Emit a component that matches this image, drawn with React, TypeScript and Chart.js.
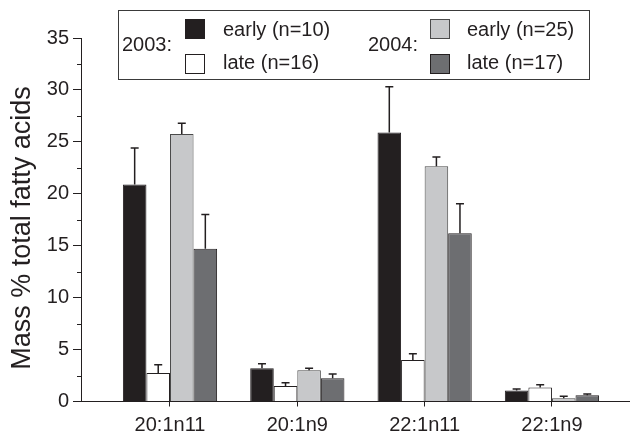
import React, { useEffect, useRef } from 'react';
import { Chart, registerables } from 'chart.js';

Chart.register(...registerables);

const categories = ['20:1n11', '20:1n9', '22:1n11', '22:1n9'];
const early2003 = [20.9, 3.2, 25.9, 1.05];
const early2003Err = [3.5, 0.43, 4.4, 0.15];
const late2003 = [2.75, 1.5, 4.0, 1.35];
const late2003Err = [0.8, 0.3, 0.6, 0.27];
const early2004 = [25.75, 3.0, 22.65, 0.32];
const early2004Err = [1.05, 0.2, 0.9, 0.18];
const late2004 = [14.7, 2.25, 16.2, 0.6];
const late2004Err = [3.3, 0.4, 2.85, 0.12];
const yMajorTicks = [0, 5, 10, 15, 20, 25, 30, 35];
const yMinorTicks = [2.5, 7.5, 12.5, 17.5, 22.5, 27.5, 32.5];
const years = ['2003:', '2004:'];
const seriesLabels = ['early (n=10)', 'late (n=16)', 'early (n=25)', 'late (n=17)'];
const yTitle = 'Mass % total fatty acids';

const INK = '#231f20';
const FONT = "'Liberation Sans', Arial, sans-serif";

const errorsBySeries = [early2003Err, late2003Err, early2004Err, late2004Err];

const errorBarPlugin = {
  id: 'errorBars',
  afterDatasetsDraw(chart: any) {
    const ctx = chart.ctx;
    const yScale = chart.scales.y;
    ctx.save();
    ctx.strokeStyle = INK;
    ctx.lineWidth = 1.5;
    chart.data.datasets.forEach((ds: any, i: number) => {
      const meta = chart.getDatasetMeta(i);
      meta.data.forEach((el: any, j: number) => {
        const v = ds.data[j].y;
        const e = errorsBySeries[i][j];
        const yTop = yScale.getPixelForValue(v);
        const yErr = yScale.getPixelForValue(v + e);
        ctx.beginPath();
        ctx.moveTo(el.x, yTop);
        ctx.lineTo(el.x, yErr);
        ctx.moveTo(el.x - 4, yErr);
        ctx.lineTo(el.x + 4, yErr);
        ctx.stroke();
      });
    });
    ctx.restore();
  },
};

const minorTickPlugin = {
  id: 'minorTicks',
  afterDraw(chart: any) {
    const ctx = chart.ctx;
    const yScale = chart.scales.y;
    const x0 = chart.chartArea.left;
    ctx.save();
    ctx.strokeStyle = INK;
    ctx.lineWidth = 1;
    yMinorTicks.forEach((v) => {
      const y = Math.round(yScale.getPixelForValue(v)) + 0.5;
      ctx.beginPath();
      ctx.moveTo(x0 - 4, y);
      ctx.lineTo(x0, y);
      ctx.stroke();
    });
    // y-axis title
    ctx.fillStyle = INK;
    ctx.font = `27px ${FONT}`;
    ctx.textAlign = 'center';
    ctx.textBaseline = 'middle';
    ctx.translate(23, 228);
    ctx.rotate(-Math.PI / 2);
    ctx.fillText(yTitle, 0, 0);
    ctx.restore();
  },
};

const legendBoxPlugin = {
  id: 'legendBox',
  afterDraw(chart: any) {
    const ctx = chart.ctx;
    const ds = chart.data.datasets;
    ctx.save();
    ctx.fillStyle = '#ffffff';
    ctx.fillRect(118.5, 10.5, 471, 69);
    ctx.strokeStyle = '#3a3a3a';
    ctx.lineWidth = 1;
    ctx.strokeRect(118.5, 10.5, 471, 69);
    ctx.font = `20px ${FONT}`;
    ctx.textBaseline = 'middle';
    ctx.textAlign = 'left';
    const groups = [
      { yearX: 122, swX: 185, textX: 223, idx: [0, 1] },
      { yearX: 368, swX: 430, textX: 467, idx: [2, 3] },
    ];
    groups.forEach((g, gi) => {
      ctx.fillStyle = INK;
      ctx.fillText(years[gi], g.yearX, 45);
      g.idx.forEach((di, k) => {
        const sy = k === 0 ? 19 : 54;
        ctx.fillStyle = ds[di].backgroundColor;
        ctx.fillRect(g.swX, sy, 20, 20);
        ctx.strokeStyle = ds[di].borderColor;
        ctx.strokeRect(g.swX + 0.5, sy + 0.5, 19, 19);
        ctx.fillStyle = INK;
        ctx.fillText(ds[di].label, g.textX, k === 0 ? 30 : 63);
      });
    });
    ctx.restore();
  },
};

function toPoints(values: number[]) {
  return values.map((y, i) => ({ x: i + 1, y }));
}

export default function App() {
  const canvasRef = useRef<HTMLCanvasElement | null>(null);

  useEffect(() => {
    if (!canvasRef.current) return;
    const chart = new Chart(canvasRef.current, {
      type: 'bar',
      data: {
        datasets: [
          { label: seriesLabels[0], data: toPoints(early2003), backgroundColor: INK, borderColor: INK },
          { label: seriesLabels[1], data: toPoints(late2003), backgroundColor: '#ffffff', borderColor: INK },
          { label: seriesLabels[2], data: toPoints(early2004), backgroundColor: '#c7c8ca', borderColor: '#4a4a4a' },
          { label: seriesLabels[3], data: toPoints(late2004), backgroundColor: '#6d6e71', borderColor: INK },
        ].map((d) => ({ ...d, borderWidth: 1, categoryPercentage: 0.74, barPercentage: 1.0 })) as any,
      },
      options: {
        animation: false,
        responsive: false,
        layout: { padding: { top: 38, left: 0, right: 0, bottom: 0 } },
        plugins: { legend: { display: false }, tooltip: { enabled: false } },
        scales: {
          x: {
            type: 'linear',
            offset: false,
            min: 0.301,
            max: 4.613,
            afterBuildTicks: (s: any) => {
              s.ticks = categories.map((_, i) => ({ value: i + 1 }));
            },
            afterFit: (s: any) => {
              s.height = 35.5;
            },
            ticks: {
              autoSkip: false,
              maxRotation: 0,
              padding: 7,
              color: INK,
              font: { family: FONT, size: 20 },
              callback: (v: any) => categories[Math.round(v) - 1] ?? '',
            },
            grid: { offset: false, drawOnChartArea: false, drawTicks: true, tickLength: 5, color: INK },
            border: { display: true, color: INK, width: 1 },
          },
          y: {
            min: 0,
            max: 35,
            afterBuildTicks: (s: any) => {
              s.ticks = yMajorTicks.map((v) => ({ value: v }));
            },
            afterFit: (s: any) => {
              s.width = 81;
            },
            ticks: {
              padding: 4,
              color: INK,
              font: { family: FONT, size: 20 },
            },
            grid: { drawOnChartArea: false, drawTicks: true, tickLength: 8, color: INK },
            border: { display: true, color: INK, width: 1 },
          },
        },
      },
      plugins: [errorBarPlugin, minorTickPlugin, legendBoxPlugin],
    } as any);
    return () => chart.destroy();
  }, []);

  return (
    <div style={{ position: 'absolute', left: 0, top: 0, width: 630, height: 437, background: '#fff' }}>
      <canvas ref={canvasRef} width={630} height={437} />
    </div>
  );
}
